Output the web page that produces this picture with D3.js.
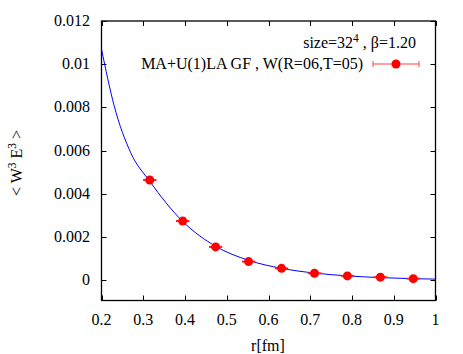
<!DOCTYPE html>
<html><head><meta charset="utf-8">
<script src="https://cdn.jsdelivr.net/npm/d3@7"></script>
<style>body{margin:0;background:#fff}svg{display:block}</style>
</head><body><svg id="c" width="463" height="354"></svg>
<script>
const rValues = [0.3156, 0.3945, 0.4734, 0.5523, 0.6312, 0.7101, 0.789, 0.8679, 0.9468];
const wValues = [0.00464, 0.00274, 0.00154, 0.00086, 0.00055, 0.00032, 0.00020, 0.00014, 0.00007];
const rErr = [0.016, 0.016, 0.016, 0.016, 0.016, 0.016, 0.016, 0.016, 0.016];
const fitR = [0.2, 0.23, 0.27, 0.3156, 0.3945, 0.4734, 0.5523, 0.6312, 0.7101, 0.789, 0.8679, 0.9468, 1.0];
const fitW = [0.0107, 0.0081, 0.0059, 0.00458, 0.00272, 0.00157, 0.00092, 0.00055, 0.00033, 0.00020, 0.00012, 0.00007, 0.00005];
const xTicks = [0.2, 0.3, 0.4, 0.5, 0.6, 0.7, 0.8, 0.9, 1];
const yTicks = [0, 0.002, 0.004, 0.006, 0.008, 0.01, 0.012];
const xTickLabels = ["0.2","0.3","0.4","0.5","0.6","0.7","0.8","0.9","1"];
const yTickLabels = ["0","0.002","0.004","0.006","0.008","0.01","0.012"];

const FF = "Liberation Serif";
const svg = d3.select("#c");
const L = 101.5, R = 435.5, T = 21, B = 300.5;
const x = d3.scaleLinear().domain([0.2, 1]).range([L, R]);
const y = d3.scaleLinear().domain([-0.00094, 0.012]).range([B, T]);
const fs = 16;
function txt(sel){ return sel.append("text").attr("font-family",FF).attr("font-size",fs).attr("fill","#000"); }

const g = svg.append("g");
xTicks.forEach((t,i)=>{
  const xx = Math.round(x(t))+0.5;
  g.append("line").attr("x1",xx).attr("x2",xx).attr("y1",B).attr("y2",B-5).attr("stroke","#000");
  g.append("line").attr("x1",xx).attr("x2",xx).attr("y1",T).attr("y2",T+5).attr("stroke","#000");
  txt(g).attr("x",x(t)).attr("y",325).attr("text-anchor","middle").text(xTickLabels[i]);
});
yTicks.forEach((t,i)=>{
  const yy = Math.round(y(t))+0.5;
  g.append("line").attr("x1",L).attr("x2",L+5).attr("y1",yy).attr("y2",yy).attr("stroke","#000");
  g.append("line").attr("x1",R).attr("x2",R-5).attr("y1",yy).attr("y2",yy).attr("stroke","#000");
  txt(g).attr("x",90).attr("y",y(t)+5).attr("text-anchor","end").text(yTickLabels[i]);
});
svg.append("rect").attr("x",L).attr("y",T).attr("width",R-L).attr("height",B-T).attr("fill","none").attr("stroke","#000").attr("stroke-width",1.3);

txt(svg).attr("x",268).attr("y",351).attr("text-anchor","middle").text("r[fm]");
const yl = txt(svg).attr("transform","translate(22,163) rotate(-90)").attr("text-anchor","middle");
yl.append("tspan").text("< W");
yl.append("tspan").attr("dy",-6).attr("font-size",11.5).text("3");
yl.append("tspan").attr("dy",6).text(" E");
yl.append("tspan").attr("dy",-6).attr("font-size",11.5).text("3");
yl.append("tspan").attr("dy",6).text(" >");

svg.append("clipPath").attr("id","clip").append("rect").attr("x",L).attr("y",T).attr("width",R-L).attr("height",B-T);

const fit = fitR.map((r,i)=>[r,fitW[i]]);
svg.append("path").attr("clip-path","url(#clip)").datum(fit)
  .attr("d", d3.line().x(d=>x(d[0])).y(d=>y(d[1])).curve(d3.curveMonotoneX))
  .attr("fill","none").attr("stroke","#0000ff").attr("stroke-width",1);

const pts = svg.append("g");
rValues.forEach((r,i)=>{
  pts.append("line").attr("x1",x(r-rErr[i])).attr("x2",x(r+rErr[i])).attr("y1",y(wValues[i])).attr("y2",y(wValues[i]))
    .attr("stroke","#ff2020").attr("stroke-width",2);
  pts.append("circle").attr("cx",x(r)).attr("cy",y(wValues[i])).attr("r",4.5).attr("fill","#ff0000");
});

const t1 = txt(svg).attr("x",416).attr("y",48).attr("text-anchor","end");
t1.append("tspan").text("size=32");
t1.append("tspan").attr("dy",-6).attr("font-size",11.5).text("4");
t1.append("tspan").attr("dy",6).text(" , β=1.20");
txt(svg).attr("x",363).attr("y",69).attr("text-anchor","end").text("MA+U(1)LA GF , W(R=06,T=05)");
const ly = 64;
svg.append("line").attr("x1",373).attr("x2",419).attr("y1",ly).attr("y2",ly).attr("stroke","#ff4040").attr("stroke-width",1);
svg.append("line").attr("x1",373).attr("x2",373).attr("y1",ly-3).attr("y2",ly+3).attr("stroke","#ff4040");
svg.append("line").attr("x1",419).attr("x2",419).attr("y1",ly-3).attr("y2",ly+3).attr("stroke","#ff4040");
svg.append("circle").attr("cx",396).attr("cy",ly).attr("r",4.5).attr("fill","#ff0000");
</script></body></html>
